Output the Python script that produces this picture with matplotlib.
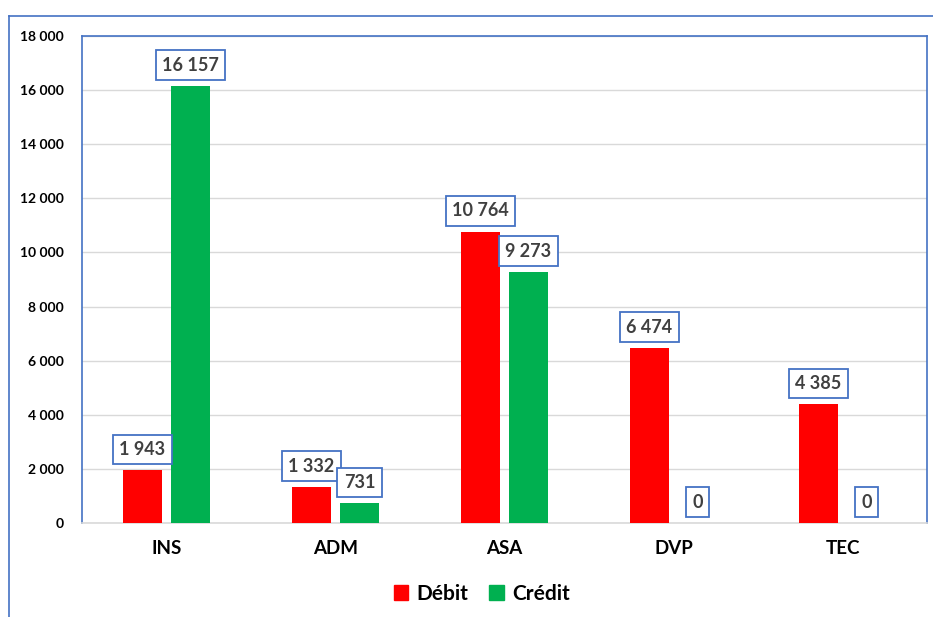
import matplotlib
matplotlib.use("Agg")
import matplotlib.pyplot as plt
import numpy as np
from matplotlib.patches import Patch
from matplotlib.lines import Line2D

categories = ["INS", "ADM", "ASA", "DVP", "TEC"]
debit = [1943, 1332, 10764, 6474, 4385]
credit = [16157, 731, 9273, 0, 0]
yticks = [0, 2000, 4000, 6000, 8000, 10000, 12000, 14000, 16000, 18000]

plt.rcParams['font.family'] = ['Lato', 'DejaVu Sans']

def fmt(v):
    return f"{v:,}".replace(",", " ")

W, H = 933, 617
fig = plt.figure(figsize=(W / 100, H / 100), dpi=100)
ax = fig.add_axes([82 / W, 1 - 523 / H, (927 - 82) / W, (523 - 36) / H])

x = np.arange(len(categories))
bw = 0.225
off = 0.142
red = "#FF0000"
green = "#00B050"
ax.bar(x - off, debit, bw, color=red, zorder=3)
ax.bar(x + off, credit, bw, color=green, zorder=3)

ax.set_xlim(-0.5, len(categories) - 0.5)
ax.set_ylim(0, 18000)
ax.set_yticks(yticks)
ax.set_yticklabels([fmt(v) for v in yticks], fontsize=10, fontweight="bold")
ax.set_xticks(x)
ax.set_xticklabels(categories, fontsize=13.5, fontweight="bold")
ax.tick_params(axis="y", length=0, pad=13)
ax.tick_params(axis="x", length=0, pad=12)
ax.grid(axis="y", color="#D9D9D9", linewidth=1, zorder=0)
ax.set_axisbelow(True)

for s in ["left", "top", "right"]:
    ax.spines[s].set_color("#4472C4")
    ax.spines[s].set_linewidth(1.2)
ax.spines["bottom"].set_color("#D9D9D9")
ax.spines["bottom"].set_linewidth(1.2)

box = dict(boxstyle="square,pad=0.35", fc="white", ec="#4472C4", lw=1.3)
for vals, o in [(debit, -off), (credit, off)]:
    for xx, v in zip(x, vals):
        ax.annotate(fmt(v), (xx + o, v), xytext=(0, 15), textcoords="offset points",
                    ha="center", va="center", fontsize=13, fontweight="bold",
                    color="#404040", bbox=box, zorder=5)

# outer chart border
fig.add_artist(Line2D([9 / W, 9 / W], [0, 1 - 16 / H], color="#4472C4", lw=1.2,
                      transform=fig.transFigure))
fig.add_artist(Line2D([9 / W, 1], [1 - 16 / H, 1 - 16 / H], color="#4472C4", lw=1.2,
                      transform=fig.transFigure))

handles = [Patch(color=red, label="Débit"), Patch(color=green, label="Crédit")]
fig.legend(handles=handles, loc="center", bbox_to_anchor=(482 / W, 1 - 594 / H), ncol=2,
           frameon=False, handlelength=0.7, handleheight=0.7, handletextpad=0.4,
           columnspacing=1.0, prop={"size": 15, "weight": "bold"})

fig.savefig("out.png", dpi=100)
